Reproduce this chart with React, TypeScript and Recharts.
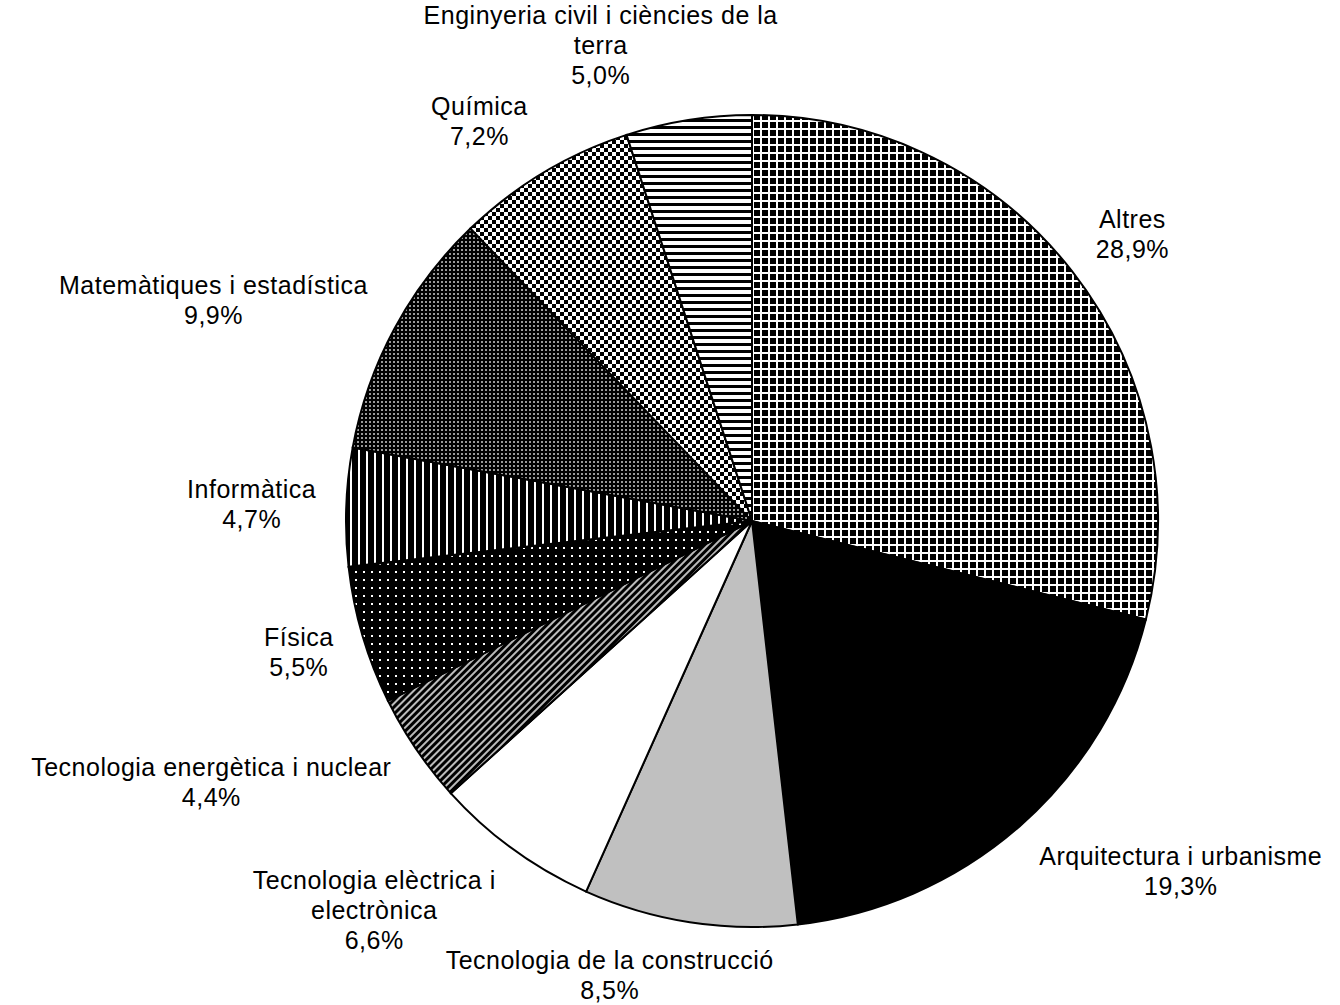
import React from "react"
import { PieChart, Pie, Cell } from "recharts"

const categories = [
  "Altres",
  "Arquitectura i urbanisme",
  "Tecnologia de la construcció",
  "Tecnologia elèctrica i\nelectrònica",
  "Tecnologia energètica i nuclear",
  "Física",
  "Informàtica",
  "Matemàtiques i estadística",
  "Química",
  "Enginyeria civil i ciències de la\nterra",
]

const shares = [28.9, 19.3, 8.5, 6.6, 4.4, 5.5, 4.7, 9.9, 7.2, 5.0]

const fills = [
  "url(#pGrid)",
  "#000000",
  "#c0c0c0",
  "#ffffff",
  "url(#pDiag)",
  "url(#pDots)",
  "url(#pVert)",
  "url(#pFine)",
  "url(#pCheck)",
  "url(#pHoriz)",
]

const data = categories.map((name, i) => ({ name, value: shares[i] }))

const W = 1340
const H = 1005
const FONT_SIZE = 25
const LINE_H = 30
const SPACING = 0.5
const GAP = 30
const FONT = `${FONT_SIZE}px "Liberation Sans", Arial, sans-serif`

let ctx: CanvasRenderingContext2D | null = null
function measure(s: string) {
  if (!ctx) {
    ctx = document.createElement("canvas").getContext("2d")
  }
  if (!ctx) return s.length * FONT_SIZE * 0.55
  ctx.font = FONT
  return ctx.measureText(s).width + SPACING * s.length
}

const clamp = (v: number) => Math.max(-1, Math.min(1, v))
const fmt = (v: number) => v.toFixed(1).replace(".", ",") + "%"

// label box sits outside the slice, pushed away from the pie along its mid angle
function renderLabel(props: any) {
  const { cx, cy, midAngle, outerRadius, index } = props
  const rad = (midAngle * Math.PI) / 180
  const cos = Math.cos(rad)
  const sin = Math.sin(rad)
  const lines = [...categories[index].split("\n"), fmt(shares[index])]
  const w = Math.max(...lines.map(measure))
  const h = lines.length * LINE_H
  const px = cx + (outerRadius + GAP) * cos
  const py = cy - (outerRadius + GAP) * sin
  const bx = px + clamp(cos * 3) * (w / 2)
  const by = py - sin * (h / 2)
  let top = by - h / 2
  // keep the last line inside the picture
  const lastBase = top + (lines.length - 1) * LINE_H + 23.5
  if (lastBase > H - 6) top -= lastBase - (H - 6)
  return (
    <text
      key={`lbl-${index}`}
      textAnchor="middle"
      fontFamily='"Liberation Sans", Arial, sans-serif'
      fontSize={FONT_SIZE}
      letterSpacing={SPACING}
      fill="#000"
    >
      {lines.map((ln, i) => (
        <tspan key={i} x={bx} y={top + i * LINE_H + 23.5}>
          {ln}
        </tspan>
      ))}
    </text>
  )
}

export default function App() {
  return (
    <div style={{ position: "absolute", left: 0, top: 0, background: "#fff" }}>
      <PieChart width={W} height={H}>
        <defs>
          <pattern id="pGrid" width="8" height="8" patternUnits="userSpaceOnUse">
            <rect width="8" height="8" fill="#000" />
            <rect x="0" y="0" width="8" height="2" fill="#fff" />
            <rect x="0" y="0" width="2" height="8" fill="#fff" />
          </pattern>
          <pattern id="pCheck" width="8" height="8" patternUnits="userSpaceOnUse">
            <rect width="8" height="8" fill="#fff" />
            <rect x="0" y="0" width="4" height="4" fill="#000" />
            <rect x="4" y="4" width="4" height="4" fill="#000" />
          </pattern>
          <pattern id="pHoriz" width="7" height="7" patternUnits="userSpaceOnUse">
            <rect width="7" height="7" fill="#fff" />
            <rect x="0" y="0" width="7" height="3" fill="#000" />
          </pattern>
          <pattern id="pFine" width="4" height="4" patternUnits="userSpaceOnUse">
            <rect width="4" height="4" fill="#000" />
            <rect x="1" y="1" width="2" height="2" fill="#9a9a9a" />
          </pattern>
          <pattern id="pVert" width="8" height="8" patternUnits="userSpaceOnUse">
            <rect width="8" height="8" fill="#000" />
            <rect x="6" y="0" width="2" height="8" fill="#fff" />
          </pattern>
          <pattern id="pDots" width="8" height="8" patternUnits="userSpaceOnUse">
            <rect width="8" height="8" fill="#000" />
            <rect x="3" y="3" width="2" height="2" fill="#fff" />
          </pattern>
          <pattern
            id="pDiag"
            width="5"
            height="5"
            patternUnits="userSpaceOnUse"
            patternTransform="rotate(45)"
          >
            <rect width="5" height="5" fill="#000" />
            <rect x="0" y="0" width="2" height="5" fill="#bbb" />
          </pattern>
        </defs>
        <Pie
          data={data}
          dataKey="value"
          nameKey="name"
          cx={747}
          cy={516}
          outerRadius={406}
          startAngle={90}
          endAngle={-270}
          stroke="#000"
          strokeWidth={2}
          label={renderLabel}
          labelLine={false}
          isAnimationActive={false}
        >
          {data.map((d, i) => (
            <Cell key={d.name} fill={fills[i]} />
          ))}
        </Pie>
      </PieChart>
    </div>
  )
}
